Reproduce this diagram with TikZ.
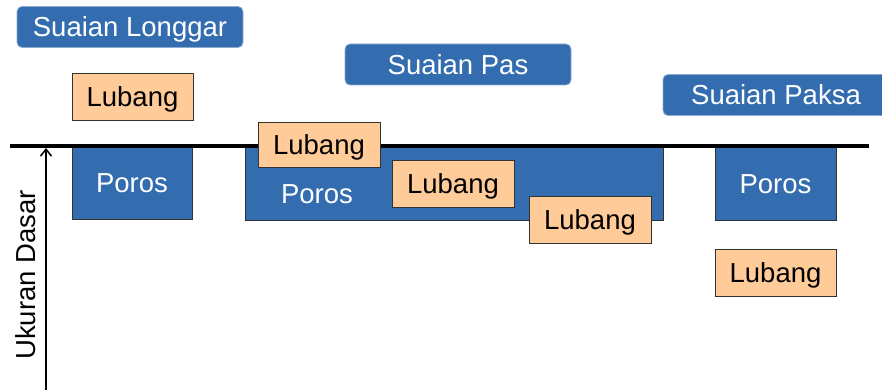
\documentclass[tikz,border=0pt]{standalone}
\usepackage{fontspec}
\setmainfont{Liberation Sans}
\usetikzlibrary{arrows.meta}
\definecolor{boxblue}{HTML}{336CAF}
\definecolor{titleedge}{HTML}{8FAAD0}
\definecolor{peach}{HTML}{FFCC99}
\definecolor{darkedge}{HTML}{333333}
\tikzset{
  txt/.style={font=\fontsize{27.5}{32}\selectfont, text height=19.7pt, text depth=0pt},
  title/.style={txt, rectangle, rounded corners=5pt, fill=boxblue, draw=titleedge, line width=0.8pt, text=white, minimum width=226pt, minimum height=41pt, inner sep=0pt},
  poros/.style={txt, rectangle, fill=boxblue, draw=darkedge, line width=0.8pt, text=white, inner sep=0pt},
  lubang/.style={txt, rectangle, fill=peach, draw=darkedge, line width=0.8pt, text=black, minimum width=121pt, minimum height=46pt, inner sep=0pt},
}
\begin{document}
\begin{tikzpicture}[x=1pt,y=-1pt]
\useasboundingbox (0,0) rectangle (882,390);
\clip (0,0) rectangle (882,390);
% titles
\node[title] (t1) at (130,27) {Suaian Longgar};
\node[title] (t2) at (458,64.5) {Suaian Pas};
\node[title] (t3) at (776,95) {Suaian Paksa};
% poros
\node[poros, minimum width=120pt, minimum height=72pt] (p1) at (132,183) {Poros};
\node[poros, minimum width=418pt, minimum height=73pt] (p2) at (454,183.5) {};
\node[txt, text=white, inner sep=0pt] (p2l) at (317,194) {Poros};
\node[poros, minimum width=121pt, minimum height=73pt] (p3) at (775.5,183.5) {Poros};
% baseline
\coordinate (bl) at (10,146);
\coordinate (br) at (869,146);
\draw[line width=4pt] (bl) -- (br);
% lubang
\node[lubang, minimum height=47pt] (l1) at (132.5,96.5) {Lubang};
\node[lubang, minimum width=122pt, minimum height=45pt] (l2) at (319,144.5) {Lubang};
\node[lubang, minimum width=122pt, minimum height=47pt] (l3) at (453,183.5) {Lubang};
\node[lubang, minimum width=122pt, minimum height=47pt] (l4) at (590,219.5) {Lubang};
\node[lubang, minimum height=47pt] (l5) at (775.5,272.5) {Lubang};
% arrow
\coordinate (ab) at (46,392);
\coordinate (at) at (46,148);
\draw[line width=1.5pt, -{Straight Barb[length=7pt,width=11pt,line width=1.5pt]}] (ab) -- (at);
\node[txt, rotate=90, inner sep=0pt] (ud) at (26,275) {Ukuran Dasar};
\end{tikzpicture}
\end{document}
